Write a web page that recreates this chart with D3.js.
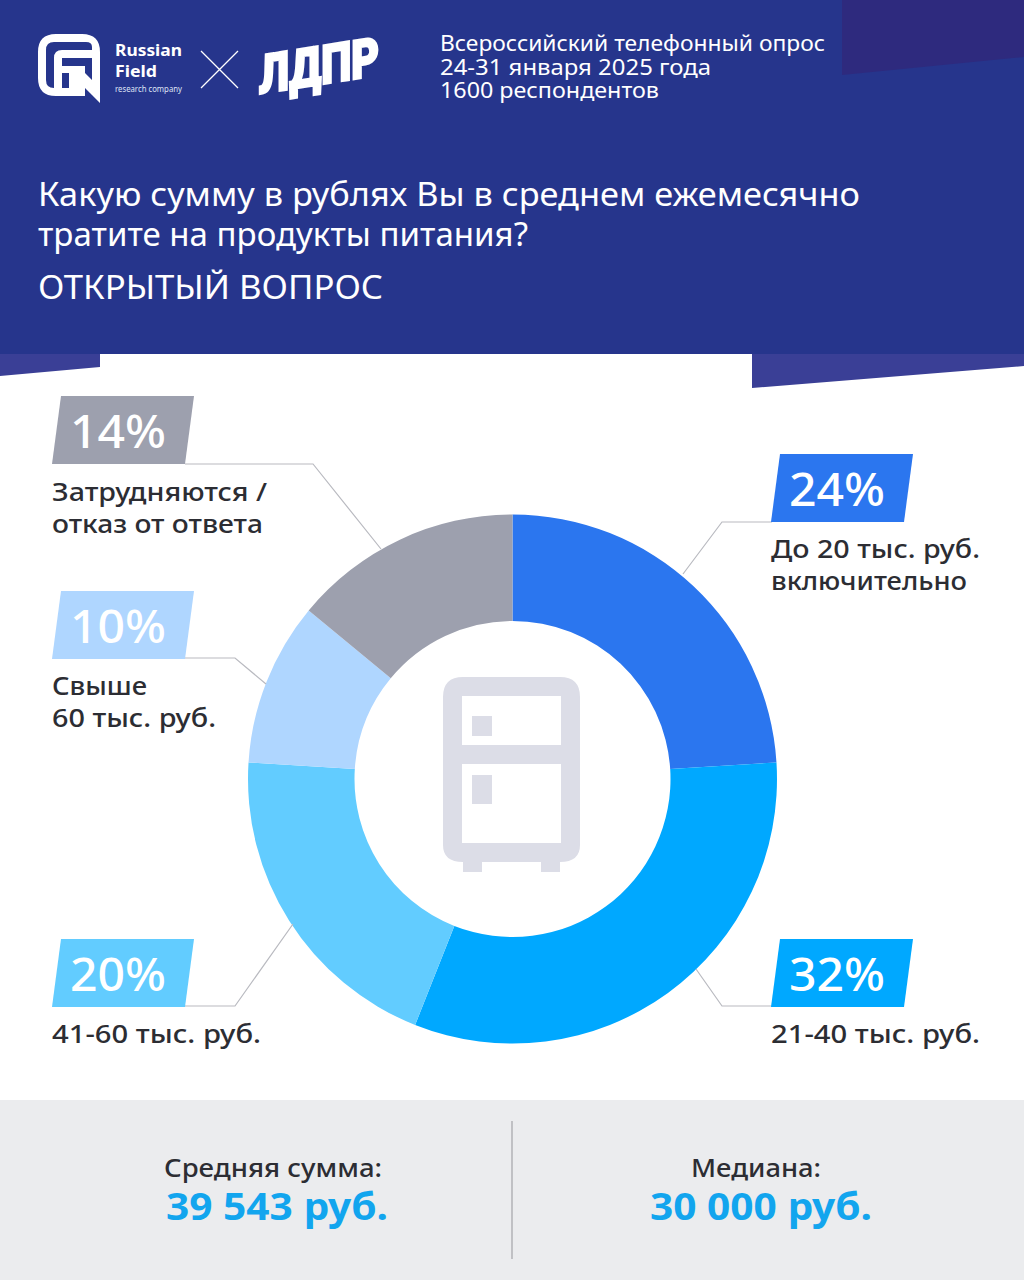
<!DOCTYPE html>
<html><head><meta charset="utf-8">
<script src="https://cdn.jsdelivr.net/npm/d3@7"></script>
<style>html,body{margin:0;padding:0;background:#fff}svg{display:block}text{font-family:"Noto Sans",sans-serif}</style>
</head><body><svg id="c" width="1024" height="1280"></svg>
<script>
const categories = ["До 20 тыс. руб.|включительно","21-40 тыс. руб.","41-60 тыс. руб.","Свыше|60 тыс. руб.","Затрудняются /|отказ от ответа"];
const values = [24,32,20,10,14];
const colors = ["#2b76ef","#00a8ff","#62ccff","#afd6ff","#9da0ae"];
const infoLines = ["Всероссийский телефонный опрос","24-31 января 2025 года","1600 респондентов"];
const titleLines = ["Какую сумму в рублях Вы в среднем ежемесячно","тратите на продукты питания?"];
const subtitle = "ОТКРЫТЫЙ ВОПРОС";
const statLabels = ["Средняя сумма:","Медиана:"];
const statValues = ["39 543 руб.","30 000 руб."];

const svg = d3.select("#c");
const poly=(pts,fill)=>svg.append("polygon").attr("points",pts.map(p=>p.join(",")).join(" ")).attr("fill",fill);
const txt=(x,y,s,size,fill,opt={})=>svg.append("text").attr("x",x).attr("y",y).text(s).attr("font-size",size).attr("fill",fill)
  .attr("text-anchor",opt.anchor||"start").attr("font-weight",opt.weight||400).attr("textLength",opt.len||null).attr("lengthAdjust",opt.len?"spacingAndGlyphs":null);

// header
svg.append("rect").attr("width",1024).attr("height",354).attr("fill","#26358c");
poly([[842,0],[1024,0],[1024,57],[842,75]],"#2e2a7e");
poly([[0,354],[100,354],[100,367],[0,376]],"#3a3f96");
poly([[752,354],[1024,354],[1024,366],[752,388]],"#3a3f96");

// logo RF
svg.append("path").attr("fill","#fff").attr("fill-rule","evenodd")
 .attr("d","M56 34H82Q100 34 100 52V103L85 88V96H56Q38 96 38 78V52Q38 34 56 34Z"
  +" M54 42Q46 42 46 50V80Q46 88 54 88V58Q54 50 62 50H92V47Q92 42 86 42Z"
  +" M62 58H92V80L85 73V66H62Z M62 73H69V88H62Z");
txt(115,56,"Russian",15.5,"#fff",{weight:700,len:67});
txt(115,77,"Field",15.5,"#fff",{weight:700,len:42});
txt(115,92,"research company",8.5,"#dfe3f5",{len:67});
svg.append("path").attr("d","M201 51L238 88M238 51L201 88").attr("stroke","#fff").attr("stroke-width",1.3);
svg.append("g").attr("transform","translate(259,94) skewY(-9)").append("text").text("ЛДПР")
  .attr("font-size",54).attr("font-weight",900).attr("fill","#fff").attr("stroke","#fff").attr("stroke-width",2.4)
  .attr("textLength",120).attr("lengthAdjust","spacingAndGlyphs").style("font-family","Roboto");

infoLines.forEach((s,i)=>txt(440,51+i*23.5,s,22,"#fff",{len:[385,271,219][i]}));
titleLines.forEach((s,i)=>txt(38,206+i*40,s,33.5,"#fff",{len:[822,490][i]}));
txt(38,299,subtitle,33.5,"#fff",{len:345});

// donut
const cx=512.5,cy=779,R=264.5,r=158;
const pie=d3.pie().sort(null)(values);
const arc=d3.arc().innerRadius(r).outerRadius(R);
const chart=svg.append("g").attr("transform",`translate(${cx},${cy})`);
chart.selectAll("path").data(pie).join("path").attr("d",arc).attr("fill",(d,i)=>colors[i]);

// fridge icon
const ic="#dcdde7";
svg.append("path").attr("fill",ic).attr("fill-rule","evenodd").attr("d",
 "M463 677H560Q580 677 580 697V845Q580 862 560 862H463Q443 862 443 845V697Q443 677 463 677Z M462 696V745H561V696Z M462 764V843H561V764Z");
[[472,716,20,20],[472,775,20,29],[463,860,19,12],[541,860,19,12]].forEach(a=>svg.append("rect").attr("x",a[0]).attr("y",a[1]).attr("width",a[2]).attr("height",a[3]).attr("fill",ic));

// labels
const layout=[
 {x:771,y:454,h:68,line:[[772,522],[722,522],[683,574]],ty:559},
 {x:771,y:939,h:68,line:[[772,1006],[722,1006],[696,969]],ty:1044},
 {x:52,y:939,h:68,line:[[185,1006],[235,1006],[293,924]],ty:1044},
 {x:52,y:591,h:68,line:[[185,658],[235,658],[266,684]],ty:696},
 {x:52,y:396,h:68,line:[[185,464],[313,464],[381,549]],ty:502}
];
values.forEach((v,i)=>{
 const L=layout[i],w=133,sk=9;
 svg.append("polyline").attr("points",L.line.map(p=>p.join(",")).join(" ")).attr("fill","none").attr("stroke","#b9bac0").attr("stroke-width",1.2);
 poly([[L.x+sk,L.y],[L.x+sk+w,L.y],[L.x+w,L.y+L.h],[L.x,L.y+L.h]],colors[i]);
 txt(L.x+66,L.y+52,v+"%",46,"#fff",{anchor:"middle",weight:500,len:96});
 categories[i].split("|").forEach((s,j)=>txt(L.x,L.ty-1+j*32,s,26,"#2c2d33",{weight:500,len:{0:[209,196],1:[209],2:[209],3:[95,164],4:[215,211]}[i][j]}));
});

// footer
svg.append("rect").attr("y",1100).attr("width",1024).attr("height",180).attr("fill","#ebecee");
svg.append("line").attr("x1",512).attr("x2",512).attr("y1",1121).attr("y2",1259).attr("stroke","#a9aaae").attr("stroke-width",1.3);
[[273,277],[756,761]].forEach((x,i)=>{
 txt(x[0],1177,statLabels[i],26,"#2c2d33",{anchor:"middle",weight:500,len:[218,130][i]});
 txt(x[1],1220,statValues[i],37,"#12a5ee",{anchor:"middle",weight:700,len:[222,222][i]});
});
</script></body></html>
